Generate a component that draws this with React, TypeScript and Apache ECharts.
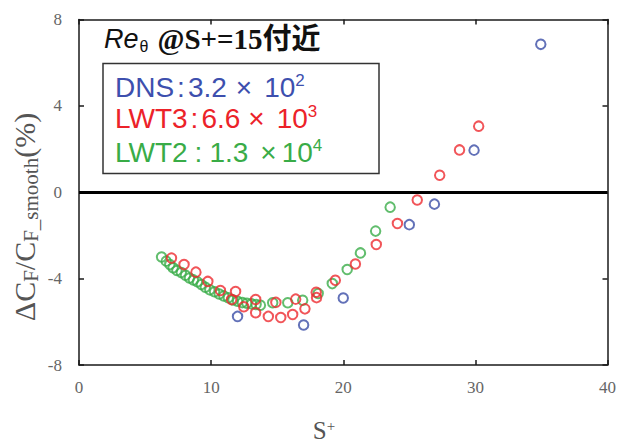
import React, { useEffect, useRef } from "react";
import * as echarts from "echarts";

// ---- data ----
const xTicks = [0, 10, 20, 30, 40];
const yTicks = [-8, -4, 0, 4, 8];

const dnsData: number[][] = [
  [12.0, -5.75], [17.0, -6.15], [20.0, -4.9], [25.0, -1.5], [26.9, -0.55], [29.9, 1.95], [34.95, 6.85],
];

const lwt3Data: number[][] = [
  [7.0, -3.05], [7.95, -3.35], [8.85, -3.7], [9.75, -4.13], [10.7, -4.55], [11.55, -4.97], [11.85, -4.6],
  [12.47, -5.3], [13.37, -4.97], [13.37, -5.58], [14.33, -5.75], [14.9, -5.1], [15.27, -5.8], [16.17, -5.66],
  [16.4, -4.95], [17.1, -5.4], [17.95, -4.63], [17.98, -4.88], [19.4, -4.08], [20.92, -3.32], [22.5, -2.42],
  [24.1, -1.45], [25.6, -0.36], [27.3, 0.79], [28.8, 1.96], [30.25, 3.06],
];

const lwt2Data: number[][] = [
  [6.25, -3.0], [6.6, -3.19], [6.87, -3.35], [7.12, -3.5], [7.41, -3.62], [7.74, -3.72], [8.06, -3.84],
  [8.36, -3.97], [8.66, -4.06], [8.96, -4.15], [9.26, -4.27], [9.56, -4.4], [9.9, -4.52], [10.26, -4.61],
  [10.61, -4.71], [10.96, -4.8], [11.3, -4.89], [11.66, -4.99], [12.0, -5.05], [12.36, -5.11], [12.71, -5.14],
  [13.06, -5.17], [13.4, -5.2], [13.73, -5.23], [14.66, -5.12], [15.8, -5.12], [16.93, -5.0], [18.1, -4.69],
  [19.17, -4.23], [20.3, -3.58], [21.3, -2.81], [22.45, -1.8], [23.55, -0.69],
];

const zeroLineValue = 0;

const titleMain = "Re";
const titleSub = "θ";
const titleRest = "@S+=15付近";

const legendNames = ["DNS", "LWT3", "LWT2"];
const legendValues = ["3.2", "6.6", "1.3"];
const legendExponents = ["2", "3", "4"];

const xName = "S";
const xNameSup = "+";

// ---- styling ----
const BLUE = "#3b4da6";
const RED = "#ee2b2f";
const GREEN = "#39ad49";
const SERIF = "'Liberation Serif', 'Times New Roman', serif";
const SANS = "'Liberation Sans', Arial, sans-serif";

function legendLine(i: number, color: string, y: number, colonPad: number[], xPad: number[]) {
  const text =
    `{m|${legendNames[i]}}{c|:}{m|${legendValues[i]}}{x|×}{m|10}{s|${legendExponents[i]}}`;
  return {
    type: "text",
    x: 115,
    y,
    z: 20,
    style: {
      text,
      align: "left",
      verticalAlign: "middle",
      rich: {
        m: { fill: color, fontSize: 28, fontFamily: SANS, lineHeight: 30 },
        c: { fill: color, fontSize: 28, fontFamily: SANS, lineHeight: 30, padding: [0, colonPad[1], 0, colonPad[0]] },
        x: { fill: color, fontSize: 28, fontFamily: SANS, lineHeight: 30, padding: [0, xPad[1], 0, xPad[0]] },
        s: { fill: color, fontSize: 17, fontFamily: SANS, lineHeight: 24, verticalAlign: "top" },
      },
    },
  };
}

export default function App() {
  const ref = useRef<HTMLDivElement>(null);

  useEffect(() => {
    if (!ref.current) return;
    const chart = echarts.init(ref.current, undefined, { renderer: "svg" });

    const markerStyle = (c: string) => ({ color: "rgba(0,0,0,0)", borderColor: c, borderWidth: 2 });

    const axisCommon = {
      type: "value",
      axisLine: { show: true, onZero: false, lineStyle: { color: "#1a1a1a", width: 1.5 } },
      axisTick: { show: true, inside: true, length: 5, lineStyle: { color: "#1a1a1a", width: 1.5 } },
      splitLine: { show: false },
    };

    const option: any = {
      animation: false,
      backgroundColor: "#ffffff",
      grid: { left: 79, right: 7, top: 19.5, bottom: 80, containLabel: false },
      xAxis: [
        {
          ...axisCommon,
          min: xTicks[0],
          max: xTicks[xTicks.length - 1],
          interval: 10,
          position: "bottom",
          axisLabel: { show: true, margin: 14, color: "#666", fontFamily: SERIF, fontSize: 17 },
        },
        {
          ...axisCommon,
          min: xTicks[0],
          max: xTicks[xTicks.length - 1],
          interval: 10,
          position: "top",
          axisLabel: { show: false },
        },
      ],
      yAxis: [
        {
          ...axisCommon,
          min: yTicks[0],
          max: yTicks[yTicks.length - 1],
          interval: 4,
          position: "left",
          axisLabel: { show: true, margin: 17, color: "#666", fontFamily: SERIF, fontSize: 17 },
        },
        {
          ...axisCommon,
          min: yTicks[0],
          max: yTicks[yTicks.length - 1],
          interval: 4,
          position: "right",
          axisLabel: { show: false },
        },
      ],
      series: [
        {
          name: "LWT2",
          type: "scatter",
          data: lwt2Data,
          symbol: "circle",
          symbolSize: 9.5,
          itemStyle: markerStyle(GREEN),
          markLine: {
            silent: true,
            symbol: ["none", "none"],
            label: { show: false },
            lineStyle: { color: "#000", width: 3, type: "solid" },
            data: [{ yAxis: zeroLineValue }],
          },
        },
        {
          name: "LWT3",
          type: "scatter",
          data: lwt3Data,
          symbol: "circle",
          symbolSize: 9.5,
          itemStyle: markerStyle(RED),
        },
        {
          name: "DNS",
          type: "scatter",
          data: dnsData,
          symbol: "circle",
          symbolSize: 9.5,
          itemStyle: markerStyle(BLUE),
        },
      ],
      graphic: [
        {
          type: "text",
          x: 104,
          y: 39,
          z: 20,
          style: {
            text: `{r|${titleMain}}{t|${titleSub}}{b|${titleRest}}`,
            align: "left",
            verticalAlign: "middle",
            rich: {
              r: { fill: "#111", fontSize: 27, fontFamily: SANS, fontStyle: "italic", lineHeight: 30 },
              t: { fill: "#111", fontSize: 16, fontFamily: SANS, lineHeight: 8, verticalAlign: "bottom", padding: [0, 9, 0, 1] },
              b: {
                fill: "#111",
                fontSize: 29,
                fontWeight: "bold",
                fontFamily: "'Liberation Serif', 'Noto Sans CJK JP', serif",
                lineHeight: 30,
              },
            },
          },
        },
        {
          type: "rect",
          z: 20,
          shape: { x: 103, y: 63.5, width: 276, height: 110 },
          style: { fill: "#fff", stroke: "#333", lineWidth: 1.5 },
        },
        legendLine(0, "#3d4fae", 87, [3, 3], [9, 12]),
        legendLine(1, "#ec2229", 118, [3, 3], [8, 12]),
        legendLine(2, "#39ac47", 152, [7, 7], [12, 5]),
        {
          type: "text",
          x: 24,
          y: 217,
          rotation: Math.PI / 2,
          z: 20,
          style: {
            text: "{a|ΔC}{s|F}{a|/C}{s|F_smooth}{a|(%)}",
            align: "center",
            verticalAlign: "middle",
            rich: {
              a: { fill: "#555", fontSize: 30, fontFamily: SERIF, lineHeight: 34 },
              s: { fill: "#555", fontSize: 21, fontFamily: SERIF, lineHeight: 20, verticalAlign: "bottom" },
            },
          },
        },
        {
          type: "text",
          x: 324,
          y: 430,
          z: 20,
          style: {
            text: `{a|${xName}}{p|${xNameSup}}`,
            align: "center",
            verticalAlign: "middle",
            rich: {
              a: { fill: "#555", fontSize: 25, fontFamily: SERIF, lineHeight: 24 },
              p: { fill: "#555", fontSize: 15, fontFamily: SERIF, lineHeight: 14, verticalAlign: "top" },
            },
          },
        },
      ],
    };

    chart.setOption(option);
    return () => chart.dispose();
  }, []);

  return (
    <div
      ref={ref}
      style={{ position: "fixed", left: 0, top: 0, width: 619, height: 445, background: "#fff" }}
    />
  );
}
